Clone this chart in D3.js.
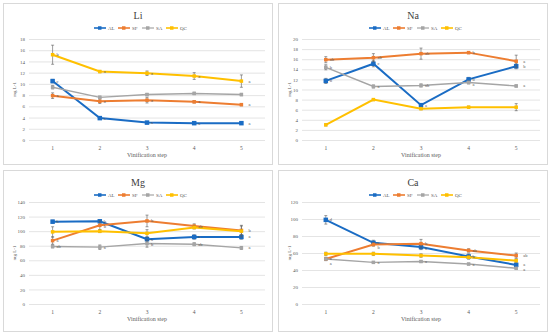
<!DOCTYPE html>
<html>
<head>
<meta charset="utf-8">
<script src="https://cdn.jsdelivr.net/npm/d3@7"></script>
<style>
  body { margin: 0; background: #fff; }
  text { font-family: "Liberation Serif", "DejaVu Serif", serif; }
</style>
</head>
<body>
<div id="chart"></div>
<script>
var W = 550, H = 335;

// data
var steps = [1, 2, 3, 4, 5];
var seriesNames = ["AL", "SF", "SA", "QC"];
var seriesColors = ["#1a6cc4", "#ed7d31", "#a5a5a5", "#ffc000"];

var liValues = [[10.5, 3.9, 3.1, 3.0, 3.0], [7.9, 6.9, 7.1, 6.8, 6.3], [9.4, 7.6, 8.1, 8.3, 8.1], [15.2, 12.2, 11.9, 11.4, 10.5]];
var liErrors = [[0.3, 0.2, 0.2, 0.1, 0.1], [0.5, 0.4, 0.5, 0.2, 0.2], [0.3, 0.2, 0.2, 0.2, 0.2], [1.7, 0.2, 0.4, 0.6, 1.1]];
var liLetters = [["c", "a", "a", "a", "a"], ["a", "a", "a", "a", "a"], ["", "", "", "", ""], ["b", "a", "a", "a", "a"]];
var liTicks = [0, 2, 4, 6, 8, 10, 12, 14, 16, 18];

var naValues = [[11.7, 15.1, 6.9, 12.0, 14.6], [15.9, 16.3, 17.1, 17.3, 15.6], [14.4, 10.6, 10.8, 11.4, 10.7], [3.0, 8.0, 6.2, 6.5, 6.5]];
var naErrors = [[0.5, 0.6, 0.3, 0.4, 0.5], [0.6, 0.8, 1.1, 0.2, 1.2], [0.5, 0.3, 0.3, 0.3, 0.2], [0.2, 0.2, 0.2, 0.2, 0.7]];
var naLetters = [["b", "c", "a", "b", "b"], ["ab", "ab", "ab", "b", "a"], ["b", "a", "ab", "a", "a"], ["", "", "", "", ""]];
var naTicks = [0, 2, 4, 6, 8, 10, 12, 14, 16, 18, 20];

var mgValues = [[113, 113.5, 89, 92, 92], [87, 108, 114, 107, 101], [79, 78, 83, 82, 77], [99, 100, 97, 105, 100]];
var mgErrors = [[2, 2, 3, 3, 3], [5, 6, 8, 3, 6], [2, 3, 5, 2, 2], [7, 2, 5, 2, 8]];
var mgLetters = [["b", "b", "a", "a", "a"], ["a", "b", "b", "ab", "b"], ["ab", "a", "b", "ab", "a"], ["", "", "", "", ""]];
var mgTicks = [0, 20, 40, 60, 80, 100, 120, 140];

var caValues = [[99, 72, 67, 56, 46], [53, 70, 71, 63, 57], [53, 49, 50, 47, 42], [59, 59, 57, 55, 51]];
var caErrors = [[5, 3, 3, 3, 2], [2, 2, 5, 2, 3], [1, 1, 1, 1, 1], [2, 2, 2, 2, 2]];
var caLetters = [["d", "c", "b", "b", "a"], ["a", "b", "b", "ab", "ab"], ["a", "a", "a", "a", "a"], ["", "", "", "", ""]];
var caTicks = [0, 20, 40, 60, 80, 100, 120];

var panels = [
  { title: "Li", values: liValues, errors: liErrors, letters: liLetters, ticks: liTicks,
    x0: 3, y0: 3, left: 29, right: 265, top: 39, bottom: 140 },
  { title: "Na", values: naValues, errors: naErrors, letters: naLetters, ticks: naTicks,
    x0: 278, y0: 3, left: 302, right: 540, top: 39, bottom: 140 },
  { title: "Mg", values: mgValues, errors: mgErrors, letters: mgLetters, ticks: mgTicks,
    x0: 3, y0: 170, left: 29, right: 265, top: 202, bottom: 304 },
  { title: "Ca", values: caValues, errors: caErrors, letters: caLetters, ticks: caTicks,
    x0: 278, y0: 170, left: 302, right: 540, top: 202, bottom: 304 }
];

var svg = d3.select("#chart").append("svg")
  .attr("width", W)
  .attr("height", H);

panels.forEach(function(p) {
  var g = svg.append("g");

  // frame
  g.append("rect")
    .attr("x", p.x0 + 0.5).attr("y", p.y0 + 0.5)
    .attr("width", 269).attr("height", 161)
    .attr("fill", "#fff").attr("stroke", "#d9d9d9");

  var x = d3.scaleBand().domain(steps).range([p.left, p.right]);
  var y = d3.scaleLinear().domain([0, d3.max(p.ticks)]).range([p.bottom, p.top]);
  var cx = function(i) { return x(steps[i]) + x.bandwidth() / 2; };

  // grid + y labels
  var yAxis = d3.axisLeft(y).tickValues(p.ticks).tickSize(-(p.right - p.left)).tickPadding(4);
  var ya = g.append("g").attr("transform", "translate(" + p.left + ",0)").call(yAxis);
  ya.select(".domain").remove();
  ya.selectAll("line").attr("stroke", "#d9d9d9").attr("stroke-width", 0.7);
  ya.selectAll("text").attr("fill", "#595959").style("font-size", "5px")
    .style("font-family", "Liberation Serif");

  // x labels
  var xAxis = d3.axisBottom(x).tickSize(0).tickPadding(6);
  var xa = g.append("g").attr("transform", "translate(0," + p.bottom + ")").call(xAxis);
  xa.select(".domain").remove();
  xa.selectAll("text").attr("fill", "#595959").style("font-size", "5.5px")
    .style("font-family", "Liberation Serif");

  // titles
  var midX = p.x0 + 135;
  g.append("text").attr("x", midX).attr("y", p.y0 + 16)
    .attr("text-anchor", "middle").attr("fill", "#404040")
    .style("font-size", "10px").text(p.title);
  g.append("text").attr("x", (p.left + p.right) / 2).attr("y", p.bottom + 17)
    .attr("text-anchor", "middle").attr("fill", "#595959")
    .style("font-size", "6px").text("Vinification step");
  g.append("text")
    .attr("transform", "translate(" + (p.x0 + 13) + "," + ((p.top + p.bottom) / 2) + ") rotate(-90)")
    .attr("text-anchor", "middle").attr("fill", "#595959")
    .style("font-size", "5px").text("mg L-1");

  // legend
  var lg = g.append("g").attr("transform", "translate(" + (p.x0 + 91) + "," + (p.y0 + 25) + ")");
  seriesNames.forEach(function(name, s) {
    var lx = s * 24;
    lg.append("line").attr("x1", lx).attr("x2", lx + 12).attr("y1", 0).attr("y2", 0)
      .attr("stroke", seriesColors[s]).attr("stroke-width", s == 2 ? 1.2 : 1.6);
    lg.append("rect").attr("x", lx + 4).attr("y", -1.75).attr("width", 3.5).attr("height", 3.5)
      .attr("fill", seriesColors[s]);
    lg.append("text").attr("x", lx + 14).attr("y", 2).attr("fill", "#595959")
      .style("font-size", "5px").text(name);
  });

  // series
  var line = d3.line().x(function(d, i) { return cx(i); }).y(function(d) { return y(d); });
  p.values.forEach(function(vals, s) {
    var col = seriesColors[s];
    var sg = g.append("g");
    sg.append("path").datum(vals).attr("d", line)
      .attr("fill", "none").attr("stroke", col)
      .attr("stroke-width", s == 2 ? 1.4 : 2);

    // error bars
    vals.forEach(function(v, i) {
      var e = p.errors[s][i];
      sg.append("line").attr("x1", cx(i)).attr("x2", cx(i))
        .attr("y1", y(v - e)).attr("y2", y(v + e))
        .attr("stroke", "#595959").attr("stroke-width", 0.6);
      [v - e, v + e].forEach(function(t) {
        sg.append("line").attr("x1", cx(i) - 1.5).attr("x2", cx(i) + 1.5)
          .attr("y1", y(t)).attr("y2", y(t))
          .attr("stroke", "#595959").attr("stroke-width", 0.6);
      });
    });

    // markers
    var ms = s == 0 ? 4.5 : 3.5;
    sg.selectAll("rect.m").data(vals).enter().append("rect")
      .attr("x", function(d, i) { return cx(i) - ms / 2; })
      .attr("y", function(d) { return y(d) - ms / 2; })
      .attr("width", ms).attr("height", ms)
      .attr("fill", col);
  });

  // letters, nudged apart per step so they don't collide
  steps.forEach(function(st, i) {
    var labs = [];
    p.values.forEach(function(vals, s) {
      var t = p.letters[s][i];
      if (t) labs.push({ t: t, y: y(vals[i]) + 1.5 });
    });
    labs.sort(function(a, b) { return a.y - b.y; });
    for (var k = 1; k < labs.length; k++) {
      if (labs[k].y - labs[k - 1].y < 5) labs[k].y = labs[k - 1].y + 5;
    }
    labs.forEach(function(l) {
      g.append("text")
        .attr("x", cx(i) + (i == 4 ? 7 : 4))
        .attr("y", l.y)
        .attr("fill", "#595959").style("font-size", "4.5px")
        .text(l.t);
    });
  });
});
</script>
</body>
</html>
